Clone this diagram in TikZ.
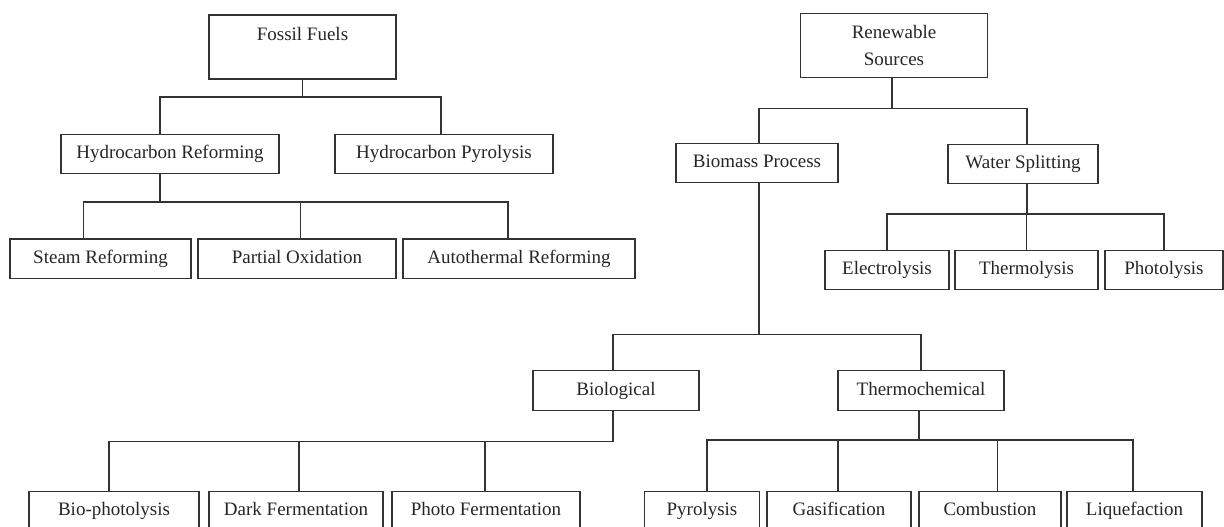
\documentclass[tikz,border=0pt]{standalone}
\usepackage{fontspec}
\setmainfont{Liberation Serif}
\usetikzlibrary{positioning}
\tikzstyle{topbox} = [draw=black!80, line width=1.1pt, rectangle, inner sep=0pt,
    text=black!85, font=\fontsize{19}{26.5}\selectfont, align=center]
\tikzstyle{box} = [topbox, minimum height=39.5, text height=13.5, text depth=4]
\tikzstyle{link} = [draw=black!80, line width=1.1pt]
\begin{document}
\begin{tikzpicture}[x=1pt, y=-1pt]
		\useasboundingbox[fill=white] (0,0) rectangle (1224,527);
		% fossil side
		\node[topbox, minimum width=187, minimum height=64] (FF) at (302.5,47) {Fossil Fuels\\ ~};
		\node[box, minimum width=218] (HR) at (170,154) {Hydrocarbon Reforming};
		\node[box, minimum width=218] (HP) at (444,154) {Hydrocarbon Pyrolysis};
		\node[box, minimum width=181] (SR) at (100.5,258.7) {Steam Reforming};
		\node[box, minimum width=198] (PO) at (297,258.7) {Partial Oxidation};
		\node[box, minimum width=232] (AR) at (519,258.7) {Autothermal Reforming};
		% renewable side
		\node[topbox, minimum width=186.5, minimum height=64.4] (RS) at (894,45.5) {Renewable\\Sources};
		\node[box, minimum width=162] (BP) at (757,163) {Biomass Process};
		\node[box, minimum width=150] (WS) at (1023,164) {Water Splitting};
		\node[box, minimum width=124] (EL) at (887,270) {Electrolysis};
		\node[box, minimum width=143] (TL) at (1026.5,270) {Thermolysis};
		\node[box, minimum width=118] (PL) at (1164,270) {Photolysis};
		\node[box, minimum width=166] (BIO) at (616,390.6) {Biological};
		\node[box, minimum width=166] (TC) at (921,390.6) {Thermochemical};
		\node[box, minimum width=170] (BPH) at (114,511) {Bio-photolysis};
		\node[box, minimum width=174] (DF) at (296,511) {Dark Fermentation};
		\node[box, minimum width=188] (PF) at (486,511) {Photo Fermentation};
		\node[box, minimum width=115.5] (PY) at (702,511) {Pyrolysis};
		\node[box, minimum width=144] (GA) at (839,511) {Gasification};
		\node[box, minimum width=142] (CO) at (990,511) {Combustion};
		\node[box, minimum width=135] (LQ) at (1134.5,511) {Liquefaction};

		\draw[link] (FF.south) -- (FF.south |- 0,97) -| ([xshift=-10]HR.north);
		\draw[link] (FF.south) -- (FF.south |- 0,97) -| ([xshift=-3]HP.north);
		\foreach \c/\dx in {SR/-17, PO/3.5, AR/-11}
			\draw[link] ([xshift=-10]HR.south) -- ([xshift=-10]HR.south |- 0,202) -| ([xshift=\dx]\c.north);

		\draw[link] ([xshift=-2]RS.south) -- ([xshift=-2]RS.south |- 0,108.3) -| ([xshift=2]BP.north);
		\draw[link] ([xshift=-2]RS.south) -- ([xshift=-2]RS.south |- 0,108.3) -| ([xshift=4]WS.north);
		\foreach \c in {EL, TL, PL}
			\draw[link] ([xshift=4]WS.south) -- ([xshift=4]WS.south |- 0,214) -| (\c.north);
		\draw[link] ([xshift=2]BP.south) -- ([xshift=2]BP.south |- 0,334.3) -| ([xshift=-3]BIO.north);
		\draw[link] ([xshift=2]BP.south) -- ([xshift=2]BP.south |- 0,334.3) -| (TC.north);
		\foreach \c/\dx in {BPH/-5, DF/3, PF/-1}
			\draw[link] ([xshift=-3]BIO.south) -- ([xshift=-3]BIO.south |- 0,441.3) -| ([xshift=\dx]\c.north);
		\foreach \c/\dx in {PY/5, GA/-1, CO/7.5, LQ/-1.5}
			\draw[link] ([xshift=-2]TC.south) -- ([xshift=-2]TC.south |- 0,440) -| ([xshift=\dx]\c.north);
	\end{tikzpicture}
\end{document}
